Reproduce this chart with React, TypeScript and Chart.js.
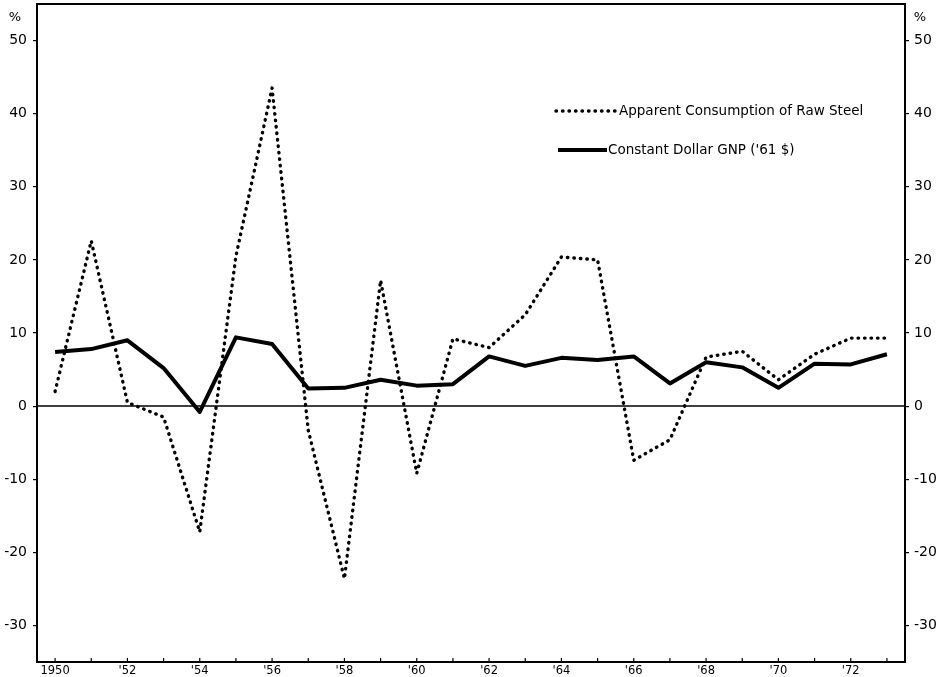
import React, { useEffect, useRef } from "react";
import { Chart, registerables } from "chart.js";

Chart.register(...registerables);

const years = [
  1950, 1951, 1952, 1953, 1954, 1955, 1956, 1957, 1958, 1959, 1960, 1961,
  1962, 1963, 1964, 1965, 1966, 1967, 1968, 1969, 1970, 1971, 1972, 1973,
];
const xTickLabels = [
  "1950", "", "'52", "", "'54", "", "'56", "", "'58", "", "'60", "",
  "'62", "", "'64", "", "'66", "", "'68", "", "'70", "", "'72", "",
];
const steelConsumption = [
  2.0, 22.6, 0.5, -1.5, -17.2, 20.5, 43.5, -3.3, -23.6, 17.2, -9.2, 9.2,
  8.0, 12.5, 20.4, 20.0, -7.4, -4.6, 6.7, 7.5, 3.6, 7.1, 9.3, 9.3,
];
const constantDollarGNP = [
  7.4, 7.8, 9.0, 5.2, -0.8, 9.4, 8.5, 2.4, 2.5, 3.6, 2.8, 3.0,
  6.8, 5.5, 6.6, 6.3, 6.8, 3.1, 6.0, 5.3, 2.5, 5.8, 5.7, 7.1,
];
const yTicks = [-30, -20, -10, 0, 10, 20, 30, 40, 50];
const legendLabels = [
  "Apparent Consumption of Raw Steel",
  "Constant Dollar GNP ('61 $)",
];

const FONT = "'DejaVu Sans', sans-serif";

const decorPlugin = {
  id: "decor",
  afterDatasetsDraw(chart: any) {
    const { ctx, chartArea, scales } = chart;
    const { left, right, top, bottom } = chartArea;
    ctx.save();
    // frame
    ctx.strokeStyle = "#000";
    ctx.lineWidth = 2;
    ctx.setLineDash([]);
    ctx.strokeRect(left, top, right - left, bottom - top);
    // zero line
    const y0 = scales.y.getPixelForValue(0);
    ctx.lineWidth = 1.5;
    ctx.beginPath();
    ctx.moveTo(left, y0);
    ctx.lineTo(right, y0);
    ctx.stroke();
    // x ticks inside
    ctx.lineWidth = 1.2;
    years.forEach((_, i) => {
      const x = scales.x.getPixelForValue(i);
      ctx.beginPath();
      ctx.moveTo(x, bottom);
      ctx.lineTo(x, bottom - 4);
      ctx.stroke();
    });
    // percent signs
    ctx.fillStyle = "#000";
    ctx.font = `13px ${FONT}`;
    ctx.textAlign = "center";
    ctx.textBaseline = "middle";
    ctx.fillText("%", 15, 18);
    ctx.fillText("%", 920, 18);
    // legend
    ctx.textAlign = "left";
    ctx.font = `13.5px ${FONT}`;
    ctx.lineCap = "round";
    ctx.lineWidth = 3.4;
    ctx.setLineDash([0.5, 6]);
    ctx.beginPath();
    ctx.moveTo(556, 111);
    ctx.lineTo(616, 111);
    ctx.stroke();
    ctx.fillText(legendLabels[0], 619, 111);
    ctx.setLineDash([]);
    ctx.lineCap = "butt";
    ctx.lineWidth = 4;
    ctx.beginPath();
    ctx.moveTo(558, 150);
    ctx.lineTo(607, 150);
    ctx.stroke();
    ctx.fillText(legendLabels[1], 608, 150);
    ctx.restore();
  },
};

export default function App() {
  const ref = useRef<HTMLCanvasElement | null>(null);
  useEffect(() => {
    document.body.style.margin = "0";
    const canvas = ref.current;
    if (!canvas) return;
    const fixTicks = (scale: any) => {
      scale.ticks = yTicks.map((v) => ({ value: v }));
    };
    const chart = new Chart(canvas, {
      type: "line",
      data: {
        labels: years.map(String),
        datasets: [
          {
            label: legendLabels[0],
            data: steelConsumption,
            borderColor: "#000",
            borderWidth: 3.4,
            borderDash: [0.5, 6],
            borderCapStyle: "round",
            borderJoinStyle: "round",
            pointRadius: 0,
            fill: false,
            tension: 0,
          },
          {
            label: legendLabels[1],
            data: constantDollarGNP,
            borderColor: "#000",
            borderWidth: 4,
            borderJoinStyle: "round",
            pointRadius: 0,
            fill: false,
            tension: 0,
          },
        ],
      },
      options: {
        responsive: false,
        animation: false,
        layout: { padding: { top: 4, left: 0, right: 0, bottom: 0 } },
        plugins: {
          legend: { display: false },
          tooltip: { enabled: false },
          title: { display: false },
        },
        scales: {
          x: {
            type: "category",
            offset: true,
            grid: { display: false, offset: false, drawTicks: false },
            border: { display: false },
            ticks: {
              autoSkip: false,
              maxRotation: 0,
              padding: 2,
              color: "#000",
              font: { family: FONT, size: 11.5 },
              callback: (_v: any, i: number) => xTickLabels[i],
            },
            afterFit: (s: any) => {
              s.height = 15;
              s.paddingLeft = 0;
              s.paddingRight = 0;
            },
          },
          y: {
            type: "linear",
            position: "left",
            min: -35,
            max: 55,
            afterBuildTicks: fixTicks,
            grid: { drawOnChartArea: false, tickLength: 4, color: "#000", lineWidth: 1.2 },
            border: { display: false },
            ticks: {
              padding: 6,
              color: "#000",
              font: { family: FONT, size: 14 },
            },
            afterFit: (s: any) => {
              s.width = 37;
              s.paddingTop = 0;
              s.paddingBottom = 0;
            },
          },
          y2: {
            type: "linear",
            position: "right",
            display: true,
            min: -35,
            max: 55,
            afterBuildTicks: fixTicks,
            grid: { drawOnChartArea: false, tickLength: 4, color: "#000", lineWidth: 1.2 },
            border: { display: false },
            ticks: {
              padding: 5,
              color: "#000",
              font: { family: FONT, size: 14 },
            },
            afterFit: (s: any) => {
              s.width = 36;
              s.paddingTop = 0;
              s.paddingBottom = 0;
            },
          },
        },
      } as any,
      plugins: [decorPlugin],
    });
    return () => chart.destroy();
  }, []);
  return (
    <div style={{ width: 941, height: 677, background: "#fff" }}>
      <canvas ref={ref} width={941} height={677} />
    </div>
  );
}
